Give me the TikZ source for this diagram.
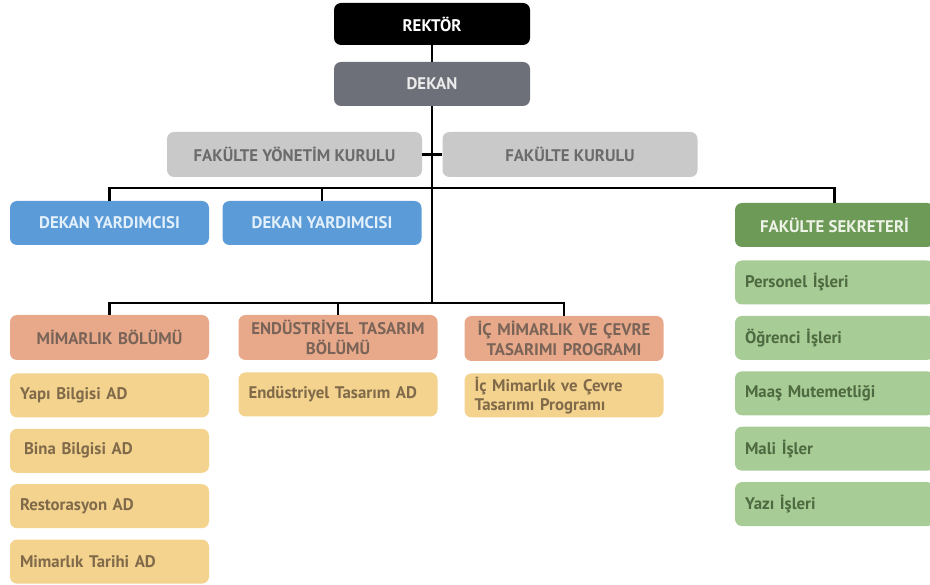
\documentclass[tikz,border=0pt]{standalone}
\usepackage{fontspec}
\setmainfont{PT Sans}
\usepackage{xcolor}
\usetikzlibrary{positioning}

\definecolor{dekangray}{HTML}{6D7078}
\definecolor{kurulgray}{HTML}{C9C9C9}
\definecolor{kurultext}{HTML}{6B6B6B}
\definecolor{yardblue}{HTML}{5A9BD8}
\definecolor{yardtext}{HTML}{E3F0FB}
\definecolor{sekgreen}{HTML}{6E9A58}
\definecolor{sektext}{HTML}{EEF3E8}
\definecolor{islergreen}{HTML}{A8CC96}
\definecolor{islertext}{HTML}{4E6A40}
\definecolor{bolumsalmon}{HTML}{E8A98A}
\definecolor{bolumtext}{HTML}{7A6458}
\definecolor{adyellow}{HTML}{F3D38E}
\definecolor{adtext}{HTML}{806A4A}

\begin{document}
\begin{tikzpicture}[x=1pt, y=-1pt, node distance=11pt]
        % Box styles
        \tikzstyle{block} = [rectangle, rounded corners=7pt, minimum height=44pt, text centered,
                             font=\fontsize{16.8}{19.5}\selectfont\bfseries]
        \tikzstyle{head} = [block, minimum width=196pt]
        \tikzstyle{kurul} = [block, fill=kurulgray, text=kurultext, minimum width=255pt, minimum height=45pt]
        \tikzstyle{unit} = [block, minimum width=199pt]
        \tikzstyle{bolum} = [block, fill=bolumsalmon, text=bolumtext, text width=190pt, align=center,
                             minimum width=199pt, minimum height=45pt, inner xsep=4.5pt, inner ysep=2pt]
        \tikzstyle{sub} = [block, text width=179pt, inner xsep=10pt, align=left, inner ysep=2pt]
        \tikzstyle{ad} = [sub, fill=adyellow, text=adtext]
        \tikzstyle{isler} = [sub, fill=islergreen, text=islertext]
        \tikzstyle{line} = [line width=2.5pt]

        \useasboundingbox (0,0) rectangle (930,585);

        % Top of the chart
        \node (rektor) [head, fill=black, text=white, minimum height=42pt] at (432,24) {REKTÖR};
        \node (dekan) [head, fill=dekangray, text=white!92!black] at (432,84) {DEKAN};
        \node (fyk) [kurul] at (294.5,154.5) {FAKÜLTE YÖNETİM KURULU};
        \node (fk) [kurul] at (570,154.5) {FAKÜLTE KURULU};

        % Second level
        \node (dy1) [unit, fill=yardblue, text=yardtext] at (109.5,223) {DEKAN YARDIMCISI};
        \node (dy2) [unit, fill=yardblue, text=yardtext] at (322,223) {DEKAN YARDIMCISI};
        \node (fs) [unit, fill=sekgreen, text=sektext] at (834.5,225) {FAKÜLTE SEKRETERİ};

        % Departments
        \node (mim) [bolum] at (109.5,337.5) {MİMARLIK BÖLÜMÜ};
        \node (end) [bolum] at (338,337.5) {ENDÜSTRİYEL TASARIM\\BÖLÜMÜ};
        \node (ic) [bolum] at (564,338.5) {İÇ MİMARLIK VE ÇEVRE\\TASARIMI PROGRAMI};

        % Anabilim dallari
        \node (yapi) [ad, below=13pt of mim] {Yapı Bilgisi AD};
        \node (bina) [ad, below=of yapi] {\hspace*{4pt}Bina Bilgisi AD};
        \node (rest) [ad, below=of bina] {Restorasyon AD};
        \node (tarih) [ad, below=of rest] {Mimarlık Tarihi AD};
        \node (endad) [ad, below=12pt of end] {Endüstriyel Tasarım AD};
        \node (icad) [ad, below=12pt of ic] {İç Mimarlık ve Çevre\\Tasarımı Programı};

        % Sekreterlik birimleri
        \node (personel) [isler] at (834.5,282.5) {Personel İşleri};
        \node (ogrenci) [isler, below=of personel] {Öğrenci İşleri};
        \node (maas) [isler, below=of ogrenci] {Maaş Mutemetliği};
        \node (mali) [isler, below=of maas] {Mali İşler};
        \node (yazi) [isler, below=of mali] {Yazı İşleri};

        % Junctions on the trunk
        \coordinate (jn1) at (432,188);
        \coordinate (jn2) at (432,303);

        % Lines
        \draw [line] (rektor) -- (dekan);
        \draw [line] (dekan) -- (jn2);
        \draw [line] (fyk) -- (fk);
        \draw [line] (dy1.north) |- (jn1) -| (fs.north);
        \draw [line] (dy2.north) -- (dy2.north |- jn1);
        \draw [line] (mim.north) |- (jn2) -| (ic.north);
        \draw [line] (end.north) -- (end.north |- jn2);
    \end{tikzpicture}
\end{document}
